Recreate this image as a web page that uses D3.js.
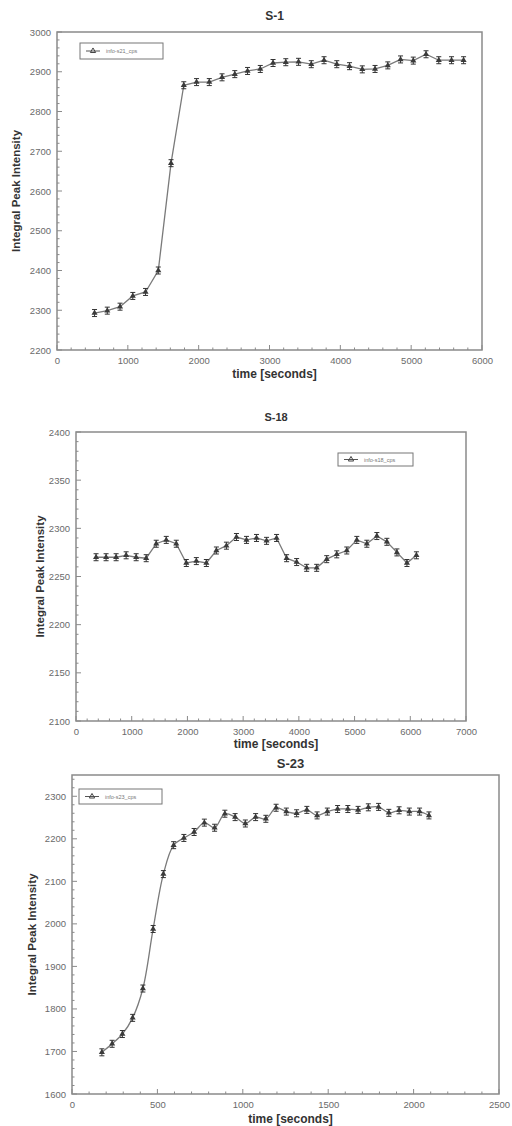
<!DOCTYPE html>
<html>
<head>
<meta charset="utf-8">
<script src="https://cdn.jsdelivr.net/npm/d3@7"></script>
<style>
  body { margin: 0; background: #fff; }
  svg { display: block; font-family: "Liberation Sans", Arial, sans-serif; }
</style>
</head>
<body>
<div id="graph"></div>
<script>
// panel S-1
const s1Time = [530, 710, 890, 1070, 1250, 1430, 1610, 1790, 1970, 2150, 2330, 2510, 2690, 2870, 3050,
  3230, 3410, 3590, 3770, 3950, 4130, 4310, 4490, 4670, 4850, 5030, 5210, 5390, 5570, 5740];
const s1Value = [2293, 2299, 2309, 2336, 2346, 2400, 2670, 2866, 2874, 2874, 2886, 2894, 2902, 2907, 2922,
  2924, 2925, 2919, 2929, 2919, 2914, 2906, 2907, 2916, 2931, 2928, 2944, 2929, 2929, 2929];

// panel S-18
const s18Time = [360, 540, 720, 900, 1080, 1260, 1440, 1620, 1800, 1980, 2160, 2340, 2520, 2700, 2880, 3060,
  3240, 3420, 3600, 3780, 3960, 4140, 4320, 4500, 4680, 4860, 5040, 5220, 5400, 5580, 5760, 5940, 6110];
const s18Value = [2270, 2270, 2270, 2272, 2270, 2269, 2284, 2288, 2284, 2264, 2266, 2264, 2277, 2282, 2291, 2288,
  2290, 2287, 2290, 2269, 2265, 2259, 2259, 2268, 2273, 2277, 2288, 2284, 2292, 2286, 2275, 2264, 2272];

// panel S-23
const s23Time = [175, 235, 295, 355, 415, 475, 535, 595, 655, 715, 775, 835, 895, 955, 1015, 1075, 1135,
  1195, 1255, 1315, 1375, 1435, 1495, 1555, 1615, 1675, 1735, 1795, 1855, 1915, 1975, 2035, 2090];
const s23Value = [1698, 1718, 1741, 1779, 1848, 1988, 2117, 2185, 2202, 2216, 2238, 2226, 2259, 2251, 2236, 2251, 2247,
  2273, 2264, 2260, 2268, 2255, 2264, 2270, 2270, 2268, 2274, 2275, 2261, 2267, 2264, 2264, 2255];

const W = 512, H = 1126;
const svg = d3.select("#graph").append("svg")
  .attr("width", W)
  .attr("height", H);

const frameColor = "#8a8a8a";
const tickText = "#6a6a6a";

function drawPanel(p) {
  const x = d3.scaleLinear().domain(p.xDomain).range([p.left, p.right]);
  const y = d3.scaleLinear().domain(p.yDomain).range([p.bottom, p.top]);
  const g = svg.append("g");

  //minor + major ticks (inward)
  const xMinor = d3.range(p.xDomain[0], p.xDomain[1] + 1, p.xMinor);
  const yMinor = d3.range(p.yDomain[0], p.yDomain[1] + 1, p.yMinor);
  g.append("g").selectAll("line").data(xMinor).enter().append("line")
    .attr("x1", d => x(d)).attr("x2", d => x(d))
    .attr("y1", p.bottom).attr("y2", d => d % p.xMajor === 0 ? p.bottom - 5 : p.bottom - 2.5)
    .attr("stroke", frameColor).attr("stroke-width", 1);
  g.append("g").selectAll("line").data(yMinor).enter().append("line")
    .attr("y1", d => y(d)).attr("y2", d => y(d))
    .attr("x1", p.left).attr("x2", d => d % p.yMajor === 0 ? p.left + 5 : p.left + 2.5)
    .attr("stroke", frameColor).attr("stroke-width", 1);

  //tick labels via d3 axes, domain/ticks hidden
  const xAxis = d3.axisBottom(x).tickValues(d3.range(p.xDomain[0], p.xDomain[1] + 1, p.xMajor))
    .tickSize(0).tickPadding(7).tickFormat(d3.format("d"));
  const yAxis = d3.axisLeft(y).tickValues(p.yTicks)
    .tickSize(0).tickPadding(6).tickFormat(d3.format("d"));
  const gx = g.append("g").attr("transform", "translate(0," + p.bottom + ")").call(xAxis);
  const gy = g.append("g").attr("transform", "translate(" + p.left + ",0)").call(yAxis);
  [gx, gy].forEach(a => {
    a.select(".domain").remove();
    a.selectAll("text").attr("fill", tickText).style("font-size", "9.5px");
  });

  //frame
  g.append("rect")
    .attr("x", p.left).attr("y", p.top)
    .attr("width", p.right - p.left).attr("height", p.bottom - p.top)
    .attr("fill", "none").attr("stroke", frameColor).attr("stroke-width", 1.5);

  //titles
  g.append("text").text(p.title)
    .attr("x", (p.left + p.right) / 2 + 5).attr("y", p.titleY)
    .attr("text-anchor", "middle").attr("font-weight", "bold")
    .style("font-size", p.titleSize + "px").attr("fill", "#333");
  g.append("text").text("time [seconds]")
    .attr("x", (p.left + p.right) / 2 + 5).attr("y", p.xLabelY)
    .attr("text-anchor", "middle").attr("font-weight", "bold")
    .style("font-size", "12px").attr("fill", "#333");
  g.append("text").text("Integral Peak Intensity")
    .attr("transform", "translate(" + p.yLabelX + "," + ((p.top + p.bottom) / 2) + ") rotate(-90)")
    .attr("text-anchor", "middle").attr("font-weight", "bold")
    .style("font-size", "11.5px").attr("fill", "#333");

  //line
  const pts = p.time.map((t, i) => [t, p.value[i]]);
  const line = d3.line().x(d => x(d[0])).y(d => y(d[1])).curve(p.curve);
  g.append("path").datum(pts)
    .attr("d", line).attr("fill", "none")
    .attr("stroke", "#7a7a7a").attr("stroke-width", 1.3);

  //markers: error bar + triangle
  const tri = d3.symbol().type(d3.symbolTriangle).size(16);
  const m = g.append("g").selectAll("g").data(pts).enter().append("g")
    .attr("transform", d => "translate(" + x(d[0]) + "," + y(d[1]) + ")");
  m.append("path").attr("d", "M0,-3.5V3.5M-2.5,-3.5H2.5M-2.5,3.5H2.5")
    .attr("stroke", "#333").attr("stroke-width", 1).attr("fill", "none");
  m.append("path").attr("d", tri).attr("fill", "#3a3a3a");

  //legend
  const lg = g.append("g").attr("transform", "translate(" + p.legend[0] + "," + p.legend[1] + ")");
  lg.append("rect").attr("width", p.legend[2]).attr("height", p.legend[3])
    .attr("fill", "#fff").attr("stroke", "#777").attr("stroke-width", 1);
  lg.append("line").attr("x1", 6).attr("x2", 20)
    .attr("y1", p.legend[3] / 2).attr("y2", p.legend[3] / 2)
    .attr("stroke", "#555").attr("stroke-width", 1);
  lg.append("path").attr("d", d3.symbol().type(d3.symbolTriangle).size(12))
    .attr("transform", "translate(13," + (p.legend[3] / 2) + ")")
    .attr("fill", "none").attr("stroke", "#444");
  lg.append("text").text(p.legendText)
    .attr("x", 26).attr("y", p.legend[3] / 2 + 2)
    .style("font-size", "5.5px").attr("fill", "#777");
}

drawPanel({
  title: "S-1", titleY: 20, titleSize: 12,
  left: 57, right: 482, top: 32, bottom: 350,
  xDomain: [0, 6000], xMajor: 1000, xMinor: 200,
  yDomain: [2200, 3000], yMajor: 100, yMinor: 20,
  yTicks: [2200, 2300, 2400, 2500, 2600, 2700, 2800, 2900, 3000],
  xLabelY: 378, yLabelX: 20,
  time: s1Time, value: s1Value, curve: d3.curveLinear,
  legend: [80, 43, 83, 16], legendText: "info-s21_cps"
});

drawPanel({
  title: "S-18", titleY: 421, titleSize: 11,
  left: 76, right: 466, top: 432, bottom: 721,
  xDomain: [0, 7000], xMajor: 1000, xMinor: 200,
  yDomain: [2100, 2400], yMajor: 50, yMinor: 10,
  yTicks: [2100, 2150, 2200, 2250, 2300, 2350, 2400],
  xLabelY: 748, yLabelX: 44,
  time: s18Time, value: s18Value, curve: d3.curveLinear,
  legend: [338, 453, 75, 13], legendText: "info-s18_cps"
});

drawPanel({
  title: "S-23", titleY: 768, titleSize: 13,
  left: 72, right: 499, top: 775, bottom: 1094,
  xDomain: [0, 2500], xMajor: 500, xMinor: 100,
  yDomain: [1600, 2350], yMajor: 100, yMinor: 20,
  yTicks: [1600, 1700, 1800, 1900, 2000, 2100, 2200, 2300],
  xLabelY: 1123, yLabelX: 36,
  time: s23Time, value: s23Value, curve: d3.curveCatmullRom,
  legend: [79, 789, 83, 15], legendText: "info-s23_cps"
});
</script>
</body>
</html>
